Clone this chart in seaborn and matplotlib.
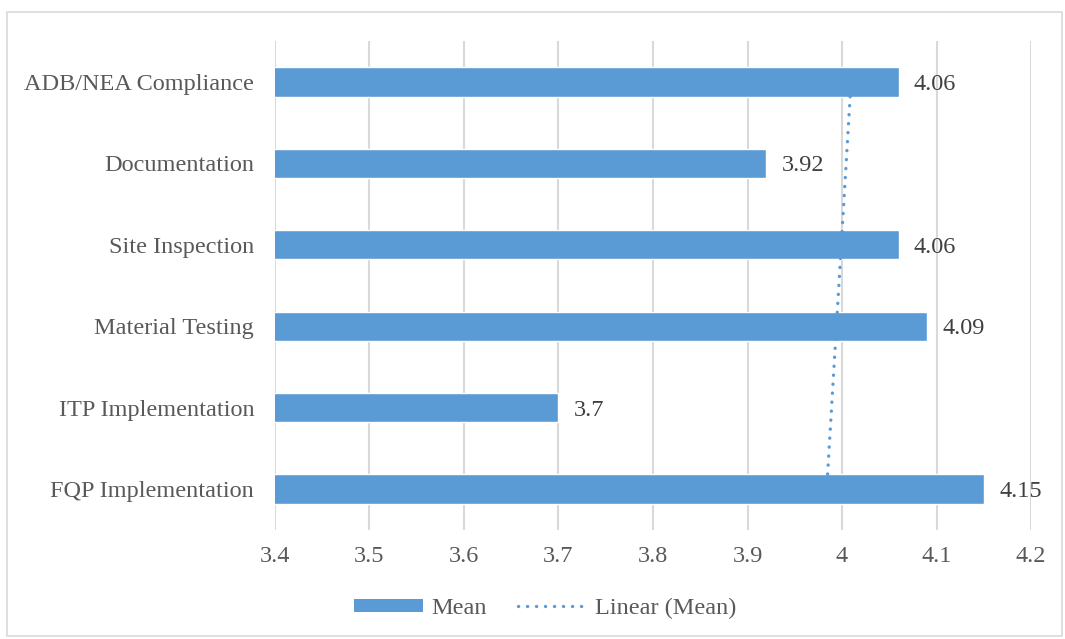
import numpy as np
import pandas as pd
import seaborn as sns
import matplotlib
matplotlib.use('Agg')
from matplotlib import pyplot as plt
from matplotlib.patches import Patch, Rectangle
from matplotlib.lines import Line2D

# data, top to bottom as drawn
categories = ['ADB/NEA Compliance', 'Documentation', 'Site Inspection',
              'Material Testing', 'ITP Implementation', 'FQP Implementation']
means = [4.06, 3.92, 4.06, 4.09, 3.7, 4.15]
value_labels = ['4.06', '3.92', '4.06', '4.09', '3.7', '4.15']
x_ticks = [3.4, 3.5, 3.6, 3.7, 3.8, 3.9, 4.0, 4.1, 4.2]
x_tick_labels = ['3.4', '3.5', '3.6', '3.7', '3.8', '3.9', '4', '4.1', '4.2']

BLUE = '#5B9BD5'
GRID = '#D9D9D9'
TXT = '#595959'
FS = 17.5
DOTS = (0, (0.05, 2.65))

sns.set_style('white')
plt.rcParams['font.family'] = ['Liberation Serif', 'DejaVu Serif']

df = pd.DataFrame({'Category': categories, 'Mean': means})

fig = plt.figure(figsize=(10.65, 6.39), dpi=100)
ax = fig.add_axes([0.2582, 0.171, 0.7099, 0.7644])

sns.barplot(data=df, x='Mean', y='Category', order=categories, color=BLUE,
            width=0.36, saturation=1, ax=ax, zorder=3)

# linear trendline (Excel style) over category positions
pos = np.arange(len(categories))
slope, icpt = np.polyfit(pos, means, 1)
half = 0.18
ys = np.array([pos[0] + half, pos[-1] - half])
ax.plot(slope * ys + icpt, ys, color=BLUE, lw=2.4, linestyle=DOTS,
        dash_capstyle='round', zorder=4)

ax.set_xlim(3.4, 4.2)
ax.set_ylim(len(categories) - 0.5, -0.5)
ax.set_xticks(x_ticks)
ax.set_xticklabels(x_tick_labels)
ax.set_xlabel('')
ax.set_ylabel('')
for x in x_ticks:
    ax.axvline(x, color=GRID, lw=1.5, zorder=1)
for s in ax.spines.values():
    s.set_visible(False)
ax.tick_params(axis='both', length=0, labelsize=FS, labelcolor=TXT)
ax.tick_params(axis='x', pad=12)
ax.tick_params(axis='y', pad=15)

texts = ax.bar_label(ax.containers[0], labels=value_labels, padding=11,
                     fontsize=FS, color='#404040')
for t in texts:
    t.set_va('center_baseline')

handles = [Patch(facecolor=BLUE, edgecolor='none'),
           Line2D([0], [0], color=BLUE, lw=2.4, linestyle=DOTS,
                  dash_capstyle='round')]
fig.legend(handles, ['Mean', 'Linear (Mean)'], loc='center',
           bbox_to_anchor=(0.512, 0.048), ncol=2, frameon=False,
           fontsize=FS, labelcolor=TXT, handlelength=2.8, handleheight=0.45,
           columnspacing=1.3, handletextpad=0.35)

fig.patches.append(Rectangle((7 / 1065, 3 / 639), 1055 / 1065, 624 / 639,
                             transform=fig.transFigure, fill=False,
                             edgecolor=GRID, lw=1.2))

fig.savefig('out.png', dpi=100)
